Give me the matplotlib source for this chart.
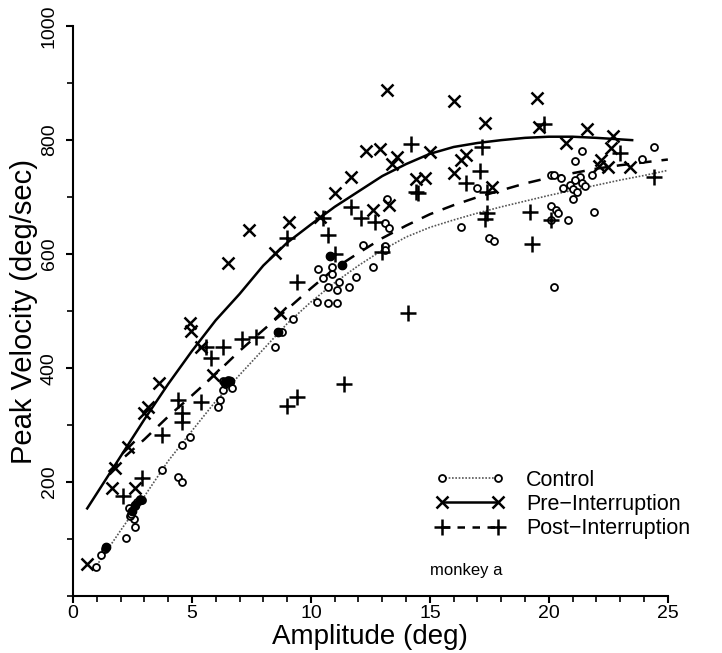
import matplotlib
matplotlib.use("Agg")
import matplotlib.pyplot as plt
from matplotlib.ticker import MultipleLocator

plt.rcParams['font.family'] = ['Liberation Sans', 'DejaVu Sans']

# Control (o)
ctrl_x = [0.97, 1.2, 1.35, 1.4, 2.25, 2.6, 2.55, 2.4, 2.5, 2.6, 2.7, 2.8, 2.9, 2.45, 2.35,
          3.75, 4.4, 4.6, 4.6, 4.9, 6.1, 6.2, 6.3, 6.4, 6.5, 6.6, 6.3, 6.7,
          8.5, 8.6, 8.8, 9.25, 10.25, 10.7, 11.1, 10.7, 11.1, 11.2, 11.6, 11.9,
          10.5, 10.3, 10.9, 10.9, 11.3, 10.8, 12.2, 12.6, 13.1, 13.1, 13.1, 13.3, 13.2,
          16.3, 17.0, 17.5, 17.7, 20.1, 20.2, 20.5, 21.4, 21.1, 21.3, 21.1, 20.9, 20.6,
          21.0, 21.4, 21.5, 21.2, 21.0, 21.8, 23.9, 24.4, 21.9, 20.1, 20.3, 20.4, 20.8,
          20.1, 20.2]
ctrl_y = [51, 72, 82, 86, 102, 122, 135, 140, 150, 158, 165, 170, 168, 145, 155,
          221, 209, 200, 265, 279, 332, 344, 362, 372, 380, 375, 378, 365,
          437, 463, 463, 486, 516, 514, 514, 542, 537, 551, 542, 560,
          558, 574, 565, 577, 581, 596, 616, 577, 614, 607, 654, 646, 696,
          647, 716, 628, 623, 738, 738, 733, 781, 763, 735, 730, 721, 716,
          714, 724, 720, 709, 697, 738, 767, 788, 674, 684, 677, 672, 660,
          660, 542]
ctrl_fill_x = [1.4, 2.5, 2.6, 2.8, 6.4, 6.6, 8.6, 10.8, 11.3]
ctrl_fill_y = [86, 150, 160, 168, 375, 378, 463, 596, 581]

# Pre-Interruption (x)
pre_x = [0.6, 1.65, 2.6, 1.75, 2.3, 3.0, 3.15, 3.6, 4.9, 4.95, 5.4, 5.9, 6.5, 7.4,
         8.5, 8.7, 9.1, 11.0, 11.7, 12.3, 12.6, 12.9, 13.2, 13.4, 13.6, 14.4, 14.8,
         15.0, 16.0, 16.0, 16.3, 16.5, 17.3, 17.6, 19.5, 19.6, 20.7, 21.6, 22.1, 22.2,
         22.5, 22.6, 22.7, 23.4, 13.3, 10.4]
pre_y = [57, 189, 189, 224, 262, 321, 332, 374, 479, 465, 437, 388, 584, 642,
         602, 496, 656, 707, 735, 781, 677, 784, 888, 759, 770, 731, 733,
         780, 742, 868, 765, 774, 830, 717, 874, 823, 795, 819, 754, 765,
         753, 786, 807, 753, 686, 665]

# Post-Interruption (+)
post_x = [2.1, 2.9, 3.75, 4.4, 4.6, 4.6, 5.4, 5.6, 5.8, 6.3, 7.1, 7.7, 9.0, 9.4,
          11.4, 9.4, 9.0, 10.5, 10.7, 11.0, 11.7, 12.1, 12.7, 13.0, 14.1, 14.5, 14.2,
          14.4, 16.5, 17.1, 17.2, 17.4, 17.4, 17.3, 19.2, 19.3, 19.8, 20.1, 23.0, 24.4]
post_y = [175, 207, 282, 344, 321, 305, 340, 437, 417, 437, 451, 455, 333, 350,
          373, 551, 628, 663, 633, 601, 683, 663, 656, 603, 496, 707, 793,
          709, 725, 746, 788, 709, 672, 661, 674, 617, 828, 660, 777, 735]

# fitted curves
ctrl_fit_x = [1, 2, 3, 4, 5, 6, 7, 8, 9, 10, 11, 12, 13, 14, 15, 16, 17, 18, 19, 20, 21, 22, 23, 24, 25]
ctrl_fit_y = [54, 115, 175, 237, 290, 342, 388, 433, 478, 516, 550, 580, 607, 630, 647, 660,
              672, 683, 693, 703, 712, 721, 730, 738, 747]
pre_fit_x = [0.6, 1, 2, 3, 4, 5, 6, 7, 8, 9, 10, 11, 12, 13, 14, 15, 16, 17, 18, 19, 20, 21, 22, 23.5]
pre_fit_y = [154, 180, 245, 310, 372, 430, 484, 530, 580, 620, 652, 683, 710, 737, 758, 776,
             788, 795, 800, 804, 806, 806, 804, 800]
post_fit_x = [1.5, 2, 3, 4, 5, 6, 7, 8, 9, 10, 11, 12, 13, 14, 15, 16, 17, 18, 19, 20, 21, 22, 23, 24, 25]
post_fit_y = [218, 238, 275, 315, 352, 390, 430, 467, 503, 540, 575, 602, 628, 650, 670, 686,
              700, 712, 724, 734, 742, 750, 756, 761, 766]

fig = plt.figure(figsize=(7.22, 6.53), dpi=100)
ax = fig.add_axes([0.101, 0.087, 0.824, 0.873])

ax.plot(ctrl_fit_x, ctrl_fit_y, color="#555555", lw=1.2, ls=(0, (1, 1)))
ax.plot(pre_fit_x, pre_fit_y, color="black", lw=1.8)
ax.plot(post_fit_x, post_fit_y, color="black", lw=1.8, ls=(0, (5, 4)))

ax.plot(ctrl_x, ctrl_y, "o", ms=5, mfc="white", mec="black", mew=1.3, ls="none")
ax.plot(ctrl_fill_x, ctrl_fill_y, "o", ms=6, mfc="black", mec="black", ls="none")
ax.plot(pre_x, pre_y, "x", ms=8, mec="black", mew=1.8, ls="none")
ax.plot(post_x, post_y, "+", ms=11, mec="black", mew=1.8, ls="none")

# legend handles
h1, = ax.plot([], [], color="#555555", lw=1.2, ls=(0, (1, 1)), marker="o", ms=5,
              mfc="white", mec="black", mew=1.3)
h2, = ax.plot([], [], color="black", lw=1.8, marker="x", ms=8, mew=1.8)
h3, = ax.plot([], [], color="black", lw=1.8, ls=(0, (3, 3)), marker="+", ms=11, mew=1.8)
ax.legend([h1, h2, h3], ["Control", "Pre\u2212Interruption", "Post\u2212Interruption"],
          loc="upper left", bbox_to_anchor=(0.595, 0.237), frameon=False, numpoints=2,
          handlelength=3.2, fontsize=15.5, labelspacing=0.15, handletextpad=1.0,
          borderaxespad=0)
ax.text(15.0, 38, "monkey a", fontsize=12)

ax.set_xlim(0, 25)
ax.set_ylim(0, 1000)
ax.spines["top"].set_visible(False)
ax.spines["right"].set_visible(False)
ax.spines["left"].set_linewidth(1.5)
ax.spines["bottom"].set_linewidth(1.5)
ax.xaxis.set_major_locator(MultipleLocator(5))
ax.xaxis.set_minor_locator(MultipleLocator(1))
ax.yaxis.set_major_locator(MultipleLocator(200))
ax.yaxis.set_minor_locator(MultipleLocator(100))
ax.tick_params(which="major", length=5, width=1.5, labelsize=14)
ax.tick_params(axis="x", which="major", pad=1)
ax.tick_params(axis="y", which="major", pad=6)
ax.tick_params(which="minor", length=4, width=1.2)
ax.set_yticks([200, 400, 600, 800, 1000])
for lab in ax.get_yticklabels():
    lab.set_rotation(90)
    lab.set_va("center")

ax.set_xlabel("Amplitude (deg)", fontsize=20, labelpad=2)
ax.set_ylabel("Peak Velocity (deg/sec)", fontsize=21, labelpad=2)

fig.savefig("out.png", dpi=100)
